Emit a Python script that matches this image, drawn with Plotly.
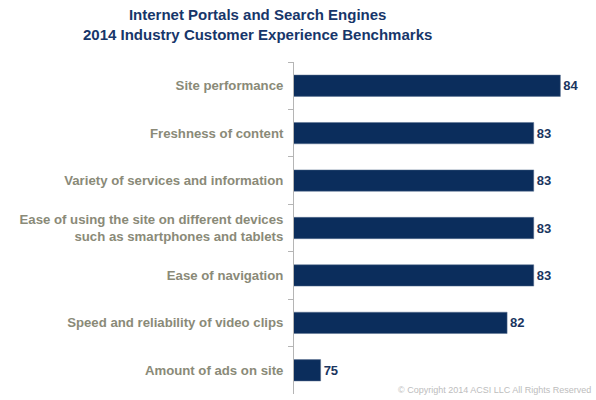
import plotly.graph_objects as go

categories = [
    "Site performance",
    "Freshness of content",
    "Variety of services and information",
    "Ease of using the site on different devices<br>such as smartphones and tablets",
    "Ease of navigation",
    "Speed and reliability of video clips",
    "Amount of ads on site",
]
scores = [84, 83, 83, 83, 83, 82, 75]

title_lines = ["Internet Portals and Search Engines",
               "2014 Industry Customer Experience Benchmarks"]
copyright_text = "© Copyright 2014 ACSI LLC All Rights Reserved"

navy = "#0b2d5c"
label_gray = "#8a8a78"

fig = go.Figure(go.Bar(
    y=["<b>" + c.replace("<br>", "</b><br><b>") + "</b>" for c in categories],
    x=scores, base=0, orientation="h",
    marker=dict(color=navy, line=dict(color="#5a7090", width=0.5)),
    text=["<b>" + str(v) + "</b>" for v in scores], textposition="outside",
    textfont=dict(family="Liberation Sans, Arial", size=13, color="#1a3560"),
    cliponaxis=False, width=0.45,
))

fig.update_layout(
    width=596, height=400,
    margin=dict(l=294, r=1, t=62, b=6, autoexpand=False),
    paper_bgcolor="white", plot_bgcolor="white",
    showlegend=False,
    xaxis=dict(range=[74, 85.3], visible=False, fixedrange=True, automargin=False),
    yaxis=dict(autorange="reversed", showline=True, linecolor="#b5b5b5", linewidth=1,
               ticks="outside", tickson="boundaries", ticklen=5, tickcolor="#b5b5b5",
               ticklabelstandoff=7, automargin=False,
               tickfont=dict(family="Liberation Sans, Arial", size=13.2, color=label_gray),
               showgrid=False),
    font=dict(family="Liberation Sans, Arial"),
)

fig.add_annotation(
    text="<b>" + title_lines[0] + "</b><br><b>" + title_lines[1] + "</b>",
    xref="x domain", yref="paper", xanchor="center", yanchor="top",
    x=(257 - 294) / 301, y=1 + 58 / 332, showarrow=False,
    font=dict(family="Liberation Sans, Arial", size=15, color="#17366a"),
    align="center",
)
fig.add_annotation(
    text=copyright_text,
    xref="x domain", yref="paper", xanchor="right", yanchor="middle",
    x=(593 - 294) / 301, y=(394 - 390) / 332, showarrow=False,
    font=dict(family="Liberation Sans, Arial", size=9, color="#bdbdbd"),
)

fig.write_html("out.html", config={"displayModeBar": False},
               post_script="document.body.style.margin='0';")
